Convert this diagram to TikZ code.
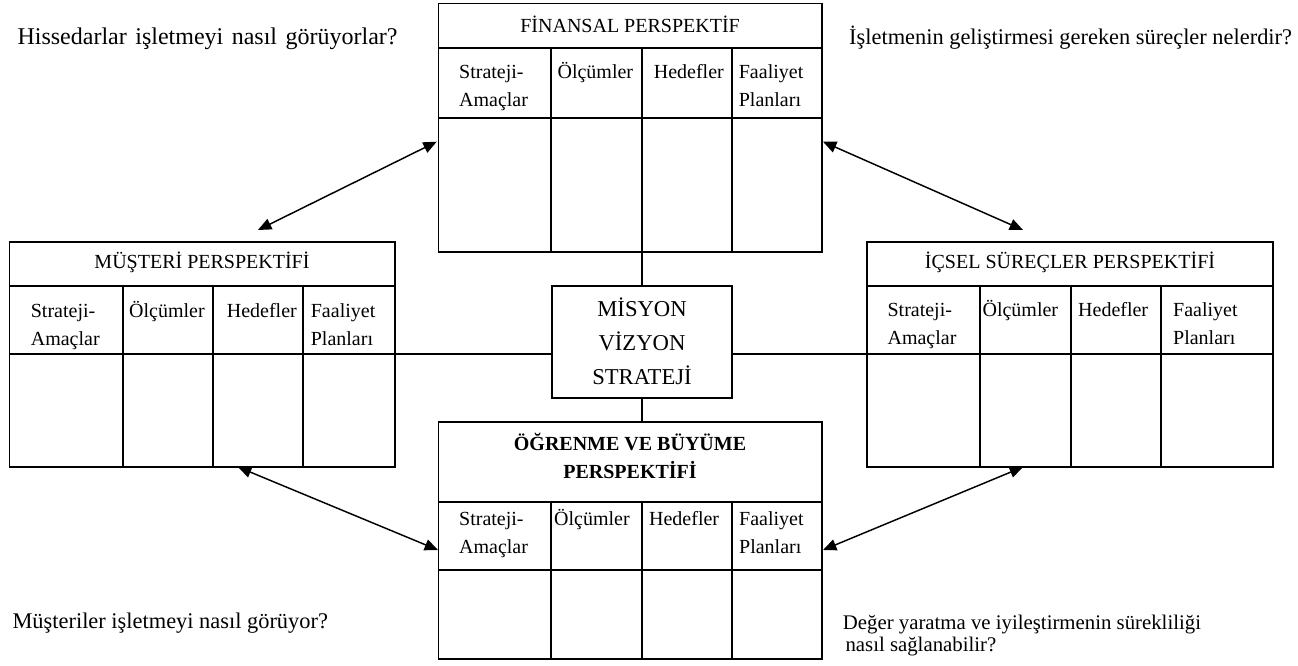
\documentclass[tikz,border=0pt]{standalone}
\usepackage{fontspec}
\setmainfont{Liberation Serif}
\usetikzlibrary{arrows.meta,fit}
\newcommand{\twoleft}[2]{\vtop{\halign{##\hfil\cr #1\cr #2\cr}}}
\newcommand{\twocent}[2]{\vtop{\halign{\hfil##\hfil\cr #1\cr #2\cr}}}
\newcommand{\threecent}[3]{\vtop{\halign{\hfil##\hfil\cr #1\cr #2\cr #3\cr}}}
\begin{document}
\begin{tikzpicture}[x=0.75pt,y=-0.75pt,line width=1.3pt,
  box/.style={draw,inner sep=0pt},
  txt/.style={inner sep=0pt,font=\fontsize{15}{16.5}\selectfont},
  lbl/.style={txt,anchor=base west},
  two/.style={lbl,font=\fontsize{15}{21.5}\selectfont},
  ttl/.style={txt,anchor=base},
  mid/.style={inner sep=0pt,anchor=base,font=\fontsize{17}{25.5}\selectfont},
  ques/.style={inner sep=0pt,anchor=base west,font=\fontsize{16.8}{18}\selectfont},
  biarrow/.style={{Triangle[length=10pt,width=8.5pt]}-{Triangle[length=10pt,width=8.5pt]},line width=1.1pt}]
\useasboundingbox (0,0) rectangle (1298,666);

% ---------- boxes ----------
\node[box,fit={(438.5,3.5) (821.7,252)}] (F) {};
\node[box,fit={(9.5,241.7) (395,466.7)}] (M) {};
\node[box,fit={(866.7,241.7) (1273.3,466.7)}] (I) {};
\node[box,fit={(438.5,421.7) (821.7,659.3)}] (O) {};
\node[box,fit={(551.7,285.7) (732.3,398.3)}] (C) {};

% ---------- grid lines: top box ----------
\draw (438.5,48) -- (821.7,48);
\draw (438.5,118) -- (821.7,118);
\foreach \x in {551,641.7,731.7} \draw (\x,48) -- (\x,252);
% left box
\draw (9.5,286) -- (395,286);
\draw (9.5,354) -- (395,354);
\foreach \x in {122.7,213.3,303.3} \draw (\x,286) -- (\x,466.7);
% right box
\draw (866.7,286) -- (1273.3,286);
\draw (866.7,354) -- (1273.3,354);
\foreach \x in {980,1070.7,1161} \draw (\x,286) -- (\x,466.7);
% bottom box
\draw (438.5,501.7) -- (821.7,501.7);
\draw (438.5,570) -- (821.7,570);
\foreach \x in {551,641.7,731.7} \draw (\x,501.7) -- (\x,659.3);

% ---------- titles ----------
\node[ttl] (Ft) at (630.1,32.3) {FİNANSAL PERSPEKTİF};
\node[ttl] (Mt) at (202,268.3) {MÜŞTERİ PERSPEKTİFİ};
\node[ttl] (It) at (1070,268.3) {İÇSEL SÜREÇLER PERSPEKTİFİ};
\node[ttl,font=\fontsize{15}{21.5}\selectfont\bfseries] (Ot) at (630,450) {\twocent{ÖĞRENME VE BÜYÜME}{PERSPEKTİFİ}};
\node[mid] (Ct) at (642,316.7) {\threecent{MİSYON}{VİZYON}{STRATEJİ}};

% ---------- column headers ----------
\node[two] (F1) at (458.3,78.3) {\twoleft{Strateji-}{Amaçlar}};
\node[lbl] (F2) at (556.7,78.3) {Ölçümler};
\node[lbl] (F3) at (653,78.3) {Hedefler};
\node[two] (F4) at (738,78.3) {\twoleft{Faaliyet}{Planları}};

\node[two] (M1) at (30,317.3) {\twoleft{Strateji-}{Amaçlar}};
\node[lbl] (M2) at (128.3,317.3) {Ölçümler};
\node[lbl] (M3) at (226,317.3) {Hedefler};
\node[two] (M4) at (310,317.3) {\twoleft{Faaliyet}{Planları}};

\node[two] (I1) at (886.7,316) {\twoleft{Strateji-}{Amaçlar}};
\node[lbl] (I2) at (981.7,316) {Ölçümler};
\node[lbl] (I3) at (1077.3,316) {Hedefler};
\node[two] (I4) at (1172.3,316) {\twoleft{Faaliyet}{Planları}};

\node[two] (O1) at (458.3,525) {\twoleft{Strateji-}{Amaçlar}};
\node[lbl] (O2) at (553.3,525) {Ölçümler};
\node[lbl] (O3) at (648.3,525) {Hedefler};
\node[two] (O4) at (738.3,525) {\twoleft{Faaliyet}{Planları}};

% ---------- questions ----------
\node[ques,font=\fontsize{18}{19}\selectfont] (q1) at (16.7,45) {\makebox[285pt][s]{Hissedarlar işletmeyi nasıl görüyorlar?}};
\node[ques] (q2) at (848.3,45) {İşletmenin geliştirmesi gereken süreçler nelerdir?};
\node[ques] (q3) at (11.7,628.3) {Müşteriler işletmeyi nasıl görüyor?};
\node[ques,font=\fontsize{15.6}{16.5}\selectfont] (q4) at (842,629) {\twoleft{Değer yaratma ve iyileştirmenin sürekliliği}{\kern2pt nasıl sağlanabilir?}};

% ---------- connectors to centre ----------
\coordinate (Mh) at (395,354);
\coordinate (Ih) at (866.7,354);
\draw (C.north -| 641.7,0) -- (F.south -| 641.7,0);
\draw (C.south -| 641.7,0) -- (O.north -| 641.7,0);
\draw (Mh) -- (C.west |- Mh);
\draw (Ih) -- (C.east |- Ih);

% ---------- arrows ----------
\coordinate (a1s) at (258,230);   \coordinate (a1e) at (436.7,141.7);
\coordinate (a2s) at (823,141.7); \coordinate (a2e) at (1023,230);
\coordinate (a3s) at (238,467);   \coordinate (a3e) at (438,550);
\coordinate (a4s) at (1023,467);  \coordinate (a4e) at (823,550);
\draw[biarrow] (a1s) -- (a1e);
\draw[biarrow] (a2s) -- (a2e);
\draw[biarrow] (a3s) -- (a3e);
\draw[biarrow] (a4s) -- (a4e);
\end{tikzpicture}
\end{document}
